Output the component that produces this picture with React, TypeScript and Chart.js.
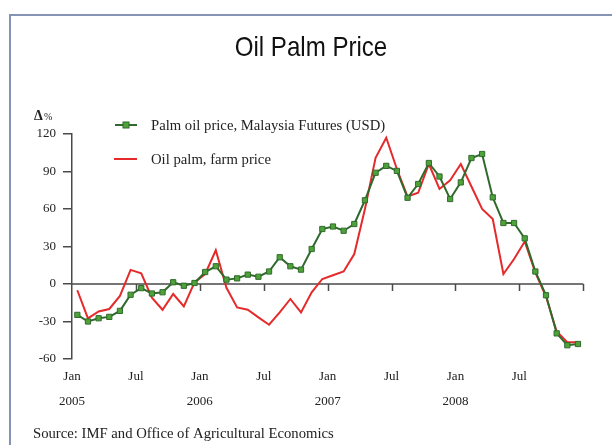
import React, { useEffect, useRef } from "react";
import { Chart, registerables } from "chart.js";

Chart.register(...registerables);

// ---- Data ----
const titleText = "Oil Palm Price";
const unitText = "%";
const sourceText = "Source: IMF and Office of Agricultural Economics";
const seriesNames = ["Palm oil price, Malaysia Futures (USD)", "Oil palm, farm price"];

// Monthly points, Jan 2005 .. Dec 2008
const monthNames = [
  "Jan 2005", "Feb 2005", "Mar 2005", "Apr 2005", "May 2005", "Jun 2005", "Jul 2005", "Aug 2005", "Sep 2005", "Oct 2005", "Nov 2005", "Dec 2005",
  "Jan 2006", "Feb 2006", "Mar 2006", "Apr 2006", "May 2006", "Jun 2006", "Jul 2006", "Aug 2006", "Sep 2006", "Oct 2006", "Nov 2006", "Dec 2006",
  "Jan 2007", "Feb 2007", "Mar 2007", "Apr 2007", "May 2007", "Jun 2007", "Jul 2007", "Aug 2007", "Sep 2007", "Oct 2007", "Nov 2007", "Dec 2007",
  "Jan 2008", "Feb 2008", "Mar 2008", "Apr 2008", "May 2008", "Jun 2008", "Jul 2008", "Aug 2008", "Sep 2008", "Oct 2008", "Nov 2008", "Dec 2008",
];

const palmFutures = [
  -24.7, -30, -27.4, -26.3, -21.5, -8.6, -3.3, -7.6, -6.6, 1.4, -1.4, 0.8,
  9.6, 14.2, 3.5, 4.5, 7.5, 5.8, 10, 21.4, 14.2, 11.5, 28, 44,
  46, 42.6, 48, 67, 89, 94.5, 90.5, 69, 80, 96.8, 86, 68,
  81.3, 100.8, 104, 69.3, 48.8, 48.8, 36.5, 10, -9, -39.5, -49, -48,
];

const farmPrice = [
  -5, -27.5, -22, -20, -9.5, 11.3, 8.6, -11, -20.6, -8, -18, 1.3,
  8, 27, -3, -18.7, -20.6, -26.7, -32.6, -22.7, -12, -22.7, -6.7, 4,
  7, 10, 24, 60, 101, 117, 92, 70, 73, 96, 76, 83,
  96, 78, 60, 52, 8, 20, 34, 9, -10, -38, -46.5, -46.5,
];

// x tick labels every 6 months, from Jan 2005 to Jan 2009
const tickMonths = ["Jan", "Jul", "Jan", "Jul", "Jan", "Jul", "Jan", "Jul", ""];
const tickYears = ["2005", "", "2006", "", "2007", "", "2008", "", ""];
const yMin = -60;
const yMax = 120;
const yStep = 30;
const monthStep = 6;

const GREEN_LINE = "#2f6a2c";
const GREEN_POINT = "#4fa23a";
const RED_LINE = "#e42a2a";
const AXIS = "#4a4a4a";
const TEXT = "#222";
const SERIF = '"Liberation Serif", "Times New Roman", serif';

const decorPlugin = {
  id: "decor",
  beforeDraw(chart: any) {
    const ctx = chart.ctx;
    ctx.save();
    ctx.fillStyle = "#ffffff";
    ctx.fillRect(0, 0, chart.width, chart.height);
    // frame
    ctx.strokeStyle = "#8593b5";
    ctx.lineWidth = 2;
    ctx.beginPath();
    ctx.moveTo(10, chart.height + 5);
    ctx.lineTo(10, 15);
    ctx.lineTo(chart.width + 5, 15);
    ctx.stroke();
    // title
    ctx.save();
    ctx.translate(311, 48);
    ctx.scale(0.86, 1);
    ctx.font = '28px "Liberation Sans", Arial, sans-serif';
    ctx.fillStyle = "#111";
    ctx.textAlign = "center";
    ctx.textBaseline = "middle";
    ctx.fillText(titleText, 0, 0);
    ctx.restore();
    // unit label
    ctx.fillStyle = TEXT;
    ctx.textBaseline = "alphabetic";
    ctx.textAlign = "left";
    ctx.font = "bold 14px " + SERIF;
    ctx.fillText("\u0394", 34, 120);
    ctx.font = "10px " + SERIF;
    ctx.fillText(unitText, 44, 120);
    // source
    ctx.font = "14.7px " + SERIF;
    ctx.textBaseline = "middle";
    ctx.fillText(sourceText, 33, 434);
    ctx.restore();
  },
  beforeDatasetsDraw(chart: any) {
    const { ctx, scales } = chart;
    const x = scales.x;
    const y = scales.y;
    const y0 = y.getPixelForValue(0);
    ctx.save();
    ctx.strokeStyle = AXIS;
    ctx.lineWidth = 1.5;
    ctx.beginPath();
    ctx.moveTo(x.left, y0);
    ctx.lineTo(x.right, y0);
    for (let v = monthStep; v <= monthNames.length; v += monthStep) {
      const px = Math.round(x.getPixelForValue(v)) + 0.5;
      ctx.moveTo(px, y0);
      ctx.lineTo(px, y0 + 7);
    }
    ctx.stroke();
    ctx.restore();
  },
  afterDraw(chart: any) {
    const ctx = chart.ctx;
    ctx.save();
    // legend: green
    ctx.strokeStyle = GREEN_LINE;
    ctx.lineWidth = 2;
    ctx.beginPath();
    ctx.moveTo(115, 125);
    ctx.lineTo(137, 125);
    ctx.stroke();
    ctx.fillStyle = GREEN_POINT;
    ctx.fillRect(123, 122, 6, 6);
    ctx.strokeStyle = GREEN_LINE;
    ctx.lineWidth = 1;
    ctx.strokeRect(123, 122, 6, 6);
    // legend: red
    ctx.strokeStyle = RED_LINE;
    ctx.lineWidth = 2;
    ctx.beginPath();
    ctx.moveTo(114, 159);
    ctx.lineTo(137, 159);
    ctx.stroke();
    ctx.fillStyle = TEXT;
    ctx.font = "14.7px " + SERIF;
    ctx.textAlign = "left";
    ctx.textBaseline = "middle";
    ctx.fillText(seriesNames[0], 151, 126);
    ctx.fillText(seriesNames[1], 151, 160);
    ctx.restore();
  },
};

export default function App() {
  const ref = useRef<HTMLCanvasElement>(null);
  useEffect(() => {
    if (!ref.current) return;
    const toPoints = (vals: number[]) => vals.map((v, i) => ({ x: i + 0.5, y: v, m: monthNames[i] }));
    const chart = new Chart(ref.current, {
      type: "line",
      data: {
        datasets: [
          {
            label: seriesNames[0],
            data: toPoints(palmFutures),
            borderColor: GREEN_LINE,
            backgroundColor: GREEN_POINT,
            borderWidth: 2,
            pointStyle: "rect",
            pointRadius: 3.7,
            pointBorderWidth: 1,
            pointBorderColor: GREEN_LINE,
            pointBackgroundColor: GREEN_POINT,
            tension: 0,
            order: 1,
          },
          {
            label: seriesNames[1],
            data: toPoints(farmPrice),
            borderColor: RED_LINE,
            backgroundColor: RED_LINE,
            borderWidth: 2,
            pointRadius: 0,
            tension: 0,
            order: 2,
          },
        ],
      },
      options: {
        animation: false,
        responsive: false,
        devicePixelRatio: 1,
        layout: { padding: { left: 0, right: 28.7, top: 134, bottom: 26 } },
        plugins: { legend: { display: false }, title: { display: false }, tooltip: { enabled: false } },
        scales: {
          x: {
            type: "linear",
            min: 0,
            max: monthNames.length,
            grid: { display: false, drawTicks: false },
            border: { display: false },
            afterFit: (s: any) => { s.height = 60; },
            ticks: {
              stepSize: monthStep,
              autoSkip: false,
              maxRotation: 0,
              padding: 5,
              color: TEXT,
              font: { family: SERIF, size: 13, lineHeight: "25px" },
              callback: (v: any) => {
                const idx = Math.round(Number(v) / monthStep);
                const m = tickMonths[idx] ?? "";
                const yr = tickYears[idx] ?? "";
                return yr ? [m, yr] : m;
              },
            },
          },
          y: {
            min: yMin,
            max: yMax,
            afterFit: (s: any) => { s.width = 72; },
            grid: { drawOnChartArea: false, drawTicks: true, tickLength: 9, color: AXIS, lineWidth: 1.5 },
            border: { display: true, color: AXIS, width: 1.5 },
            ticks: {
              stepSize: yStep,
              padding: 7,
              color: TEXT,
              font: { family: SERIF, size: 13 },
            },
          },
        },
      },
      plugins: [decorPlugin],
    } as any);
    return () => chart.destroy();
  }, []);
  return (
    <div style={{ position: "absolute", left: 0, top: 0, width: 612, height: 445 }}>
      <canvas ref={ref} width={612} height={445} />
    </div>
  );
}
